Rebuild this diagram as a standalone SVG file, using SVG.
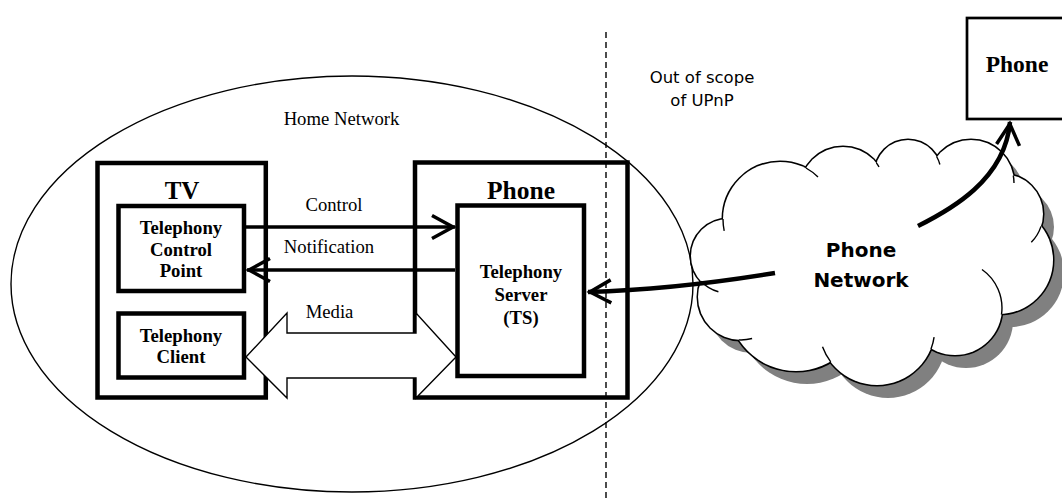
<svg xmlns="http://www.w3.org/2000/svg" xmlns:xlink="http://www.w3.org/1999/xlink" width="1062" height="499" viewBox="0 0 1062 499">
<style>
.box{fill:none;stroke:#000;stroke-width:4.5}
.thin{fill:none;stroke:#000;stroke-width:1.4}
.serif{font-family:"Liberation Serif","Times New Roman",serif;font-size:18.7px;fill:#000;text-anchor:middle}
.bold{font-weight:bold}
.sans{font-family:"DejaVu Sans",Tahoma,sans-serif;fill:#000;text-anchor:middle}
.conn{fill:none;stroke:#000;stroke-width:3.5}
.thick{fill:none;stroke:#000;stroke-width:4.5}
</style>
<defs>
<marker id="arr" markerUnits="userSpaceOnUse" viewBox="-26 -16 32 32" markerWidth="32" markerHeight="32" refX="2" refY="0" orient="auto">
<path d="M-21,-11.5 L0,0 L-21,11.5" fill="none" stroke="#000" stroke-width="3.5"/>
</marker>
<g id="lobes">
<circle cx="780" cy="219" r="57"/>
<circle cx="843" cy="190" r="43"/>
<circle cx="908" cy="173" r="33"/>
<circle cx="971" cy="183" r="43"/>
<circle cx="1003" cy="214" r="40"/>
<circle cx="999" cy="260" r="54"/>
<circle cx="955" cy="308" r="47"/>
<circle cx="877" cy="327" r="58"/>
<circle cx="796" cy="303" r="68"/>
<circle cx="741" cy="297" r="43"/>
<circle cx="728" cy="256" r="37"/>
</g>
<polygon id="core" points="780,219 843,190 908,173 971,183 1003,214 999,260 955,308 877,327 796,303 741,297 728,256"/>
</defs>

<g id="home-network">
<ellipse cx="352" cy="284" rx="341" ry="208" class="thin"/>
<text x="341.5" y="125" class="serif">Home Network</text>
</g>

<g id="tv">
<rect x="97.5" y="163" width="168.3" height="234.5" class="box"/>
<text x="182" y="199" class="serif bold" style="font-size:25px">TV</text>
</g>
<g id="telephony-control-point">
<rect x="118.5" y="206" width="125.5" height="85" class="box"/>
<text class="serif bold"><tspan x="181" y="234">Telephony</tspan><tspan x="181" y="256">Control</tspan><tspan x="181" y="277">Point</tspan></text>
</g>
<g id="telephony-client">
<rect x="118.5" y="313.5" width="125.5" height="64" class="box"/>
<text class="serif bold"><tspan x="181" y="342">Telephony</tspan><tspan x="181" y="363">Client</tspan></text>
</g>

<g id="phone">
<rect x="415" y="162.5" width="212.5" height="235" class="box"/>
<text x="521" y="199" class="serif bold" style="font-size:25.5px">Phone</text>
</g>
<g id="telephony-server">
<rect x="457.5" y="205.5" width="126.5" height="170.5" class="box"/>
<text class="serif bold"><tspan x="521" y="278">Telephony</tspan><tspan x="521" y="301">Server</tspan><tspan x="521" y="324">(TS)</tspan></text>
</g>

<g id="scope-boundary">
<line x1="606" y1="32" x2="606" y2="499" stroke="#000" stroke-width="1.4" stroke-dasharray="6 4"/>
<text class="sans" style="font-size:16.5px"><tspan x="702" y="83">Out of scope</tspan><tspan x="702" y="106">of UPnP</tspan></text>
</g>

<g id="remote-phone">
<rect x="967" y="18" width="110" height="101" fill="#fff" stroke="#000" stroke-width="2.7"/>
<text x="1017" y="72" class="serif bold" style="font-size:23.5px">Phone</text>
</g>

<g id="phone-network">
<use xlink:href="#lobes" href="#lobes" fill="#808080" transform="translate(11,13)"/>
<use xlink:href="#core" href="#core" fill="#808080" transform="translate(11,13)"/>
<use xlink:href="#lobes" href="#lobes" fill="none" stroke="#000" stroke-width="3"/>
<use xlink:href="#lobes" href="#lobes" fill="#fff"/>
<use xlink:href="#core" href="#core" fill="#fff"/>
<path class="thin" d="M723,219 A57,57 0 0 0 724.2,230.9 M806,168 A57,57 0 0 1 818,177 M876.4,162.9 A43,43 0 0 1 879,167 M936.6,156.5 A33,33 0 0 1 939.9,164.5 M1013.3,175.5 A43,43 0 0 1 1014,183 M1041,226.4 A40,40 0 0 1 1031.3,242.3 M982,269.5 A47,47 0 0 1 1001.5,314.5 M934.1,337.1 A58,58 0 0 1 931,349 M830.7,361.9 A58,58 0 0 1 822.5,346.8 M752.1,338.5 A43,43 0 0 1 738.7,339.9 M700.9,281.2 A37,37 0 0 0 718.4,291.7"/>
<text class="sans bold" style="font-size:20px"><tspan x="861" y="257">Phone</tspan><tspan x="861" y="287">Network</tspan></text>
</g>

<g id="connectors">
<line x1="246" y1="227" x2="455" y2="227" class="conn" marker-end="url(#arr)"/>
<line x1="455" y1="270" x2="247" y2="270" class="conn" marker-end="url(#arr)"/>
<polygon points="246,357 287,313 287,333 416,333 416,313 456,357 416,398 416,378 287,378 287,398" fill="#fff" stroke="#000" stroke-width="1.4"/>
<text x="329.5" y="318" class="serif">Media</text>
<text x="334" y="211" class="serif">Control</text>
<text x="329" y="253" class="serif">Notification</text>
<path d="M775,273 C720,282 660,290 588,292" class="thick" marker-end="url(#arr)"/>
<path d="M918,226 C950,210 1005,180 1010,122" class="thick" marker-end="url(#arr)"/>
</g>
</svg>
